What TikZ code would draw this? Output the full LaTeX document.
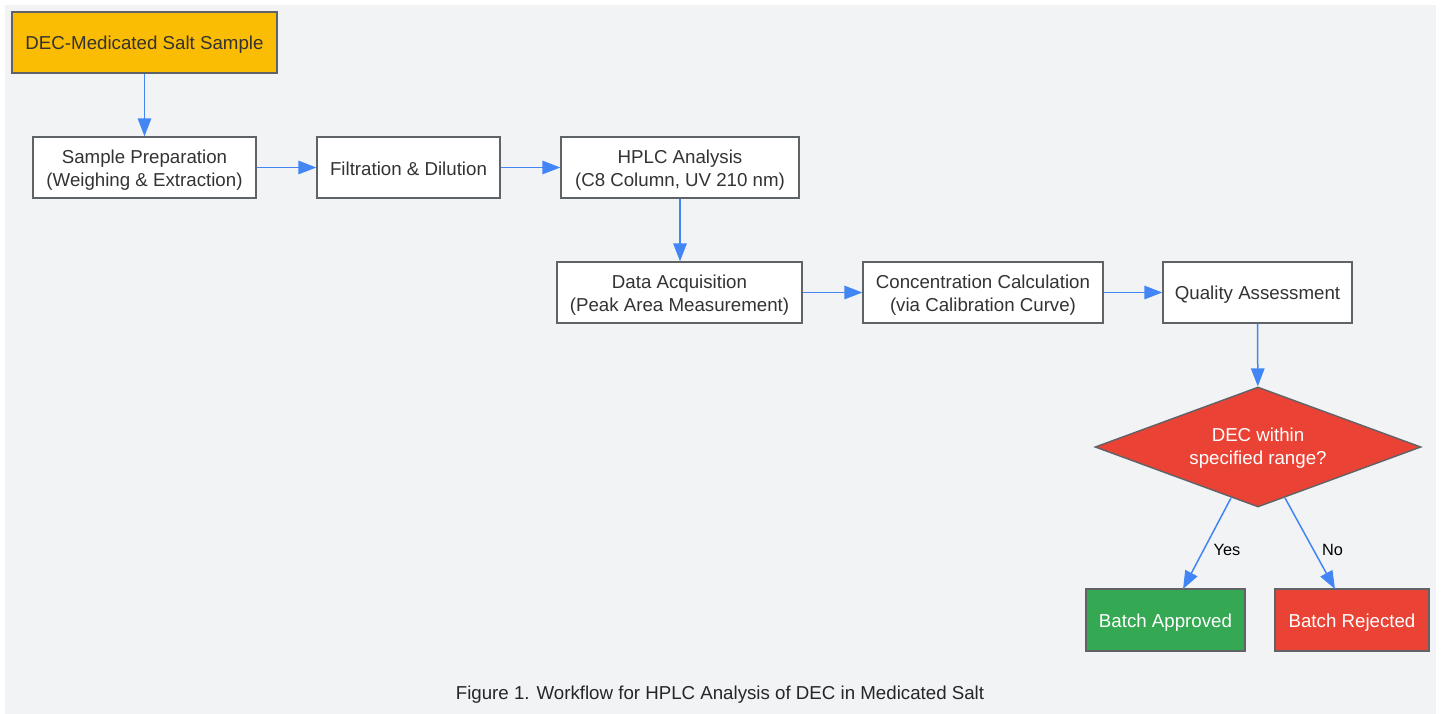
\documentclass[tikz,border=0pt]{standalone}
\usepackage{fontspec}
\setmainfont{Liberation Sans}
\usetikzlibrary{shapes.geometric,arrows.meta,positioning}
\definecolor{bgc}{HTML}{F1F3F5}
\definecolor{edgec}{HTML}{5F6368}
\definecolor{arrc}{HTML}{4285F4}
\definecolor{yel}{HTML}{FBBC04}
\definecolor{redc}{HTML}{EA4335}
\definecolor{grnc}{HTML}{34A853}
\definecolor{txtc}{HTML}{333333}
\newcommand\bstrut{\rule[-2pt]{0pt}{20.4pt}}
\newcommand\twolines[2]{\bstrut#1\\#2\bstrut}
\tikzset{
  boxtext/.style={align=center, inner sep=0pt, font=\fontsize{18.7}{22.6}\selectfont,
    execute at begin node=\bstrut, execute at end node=\bstrut},
  twotext/.style={align=center, inner sep=0pt, font=\fontsize{18.7}{22.6}\selectfont},
  frame/.style={draw=edgec, line width=1.4pt, fill=white, text=txtc},
  box/.style={boxtext, frame},
  box2/.style={twotext, frame},
  flow/.style={draw=arrc, line width=1.5pt, -{Triangle[length=18pt,width=13.5pt]}},
  lbl/.style={font=\fontsize{16.3}{20}\selectfont, text=black, anchor=base}
}
\begin{document}
\begin{tikzpicture}[x=1pt,y=-1pt]
\useasboundingbox (0,0) rectangle (1442,714);
\fill[white] (0,0) rectangle (1442,714);
\fill[bgc] (5,5) rectangle (1436,714);

\node[box, fill=yel, minimum width=265pt, minimum height=61pt] (src) at (144.5,42.5) {DEC-Medicated Salt Sample};
\node[box2, minimum width=223pt, minimum height=61pt] (prep) at (144.5,167.5) {\twolines{Sample Preparation}{(Weighing \& Extraction)}};
\node[box, minimum width=183pt, minimum height=61pt] (filt) at (408.5,167.5) {Filtration \& Dilution};
\node[box2, minimum width=238pt, minimum height=61pt] (hplc) at (680,167.5) {\twolines{HPLC Analysis}{(C8 Column, UV 210 nm)}};
\node[box2, minimum width=245pt, minimum height=61pt] (daq) at (679.5,292.5) {\twolines{Data Acquisition}{(Peak Area Measurement)}};
\node[box2, minimum width=240pt, minimum height=61pt] (conc) at (983,292.5) {\twolines{Concentration Calculation}{(via Calibration Curve)}};
\node[box, minimum width=189pt, minimum height=61pt] (qa) at (1257.5,292.5) {Quality Assessment};
\node[draw=edgec, line width=1.4pt, diamond, fill=redc, inner sep=0pt, minimum width=326pt, minimum height=120pt,
  aspect=2.7] (dec) at (1258,447) {};
\node[twotext, text=white] (dectxt) at (1258,445.7) {\twolines{DEC within}{specified range?}};
\node[box, fill=grnc, text=white, minimum width=159pt, minimum height=62pt] (appr) at (1165.5,620) {Batch Approved};
\node[box, fill=redc, text=white, minimum width=154pt, minimum height=62pt] (rej) at (1352,620) {Batch Rejected};

\node[boxtext, text=black!85] (cap) at (720,692) {Figure 1. Workflow for HPLC Analysis of DEC in Medicated Salt};

\draw[flow] (src) -- (prep);
\draw[flow] (prep) -- (filt);
\draw[flow] (filt) -- (hplc);
\draw[flow] (hplc) -- (hplc |- daq.north);
\draw[flow] (daq) -- (conc);
\draw[flow] (conc) -- (qa);
\draw[flow] (qa) -- (dec);
\coordinate (ys) at (1231,498);
\coordinate (ns) at (1285,498);
\coordinate (ye) at (1183,589);
\coordinate (ne) at (1335,589);
\draw[flow] (ys) -- (ye);
\draw[flow] (ns) -- (ne);
\node[lbl] (yes) at (1227,555) {Yes};
\node[lbl] (no) at (1332.5,555) {No};
\end{tikzpicture}
\end{document}
